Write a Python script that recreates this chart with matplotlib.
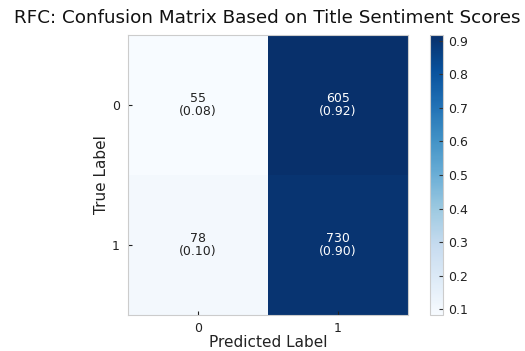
import numpy as np
import matplotlib
matplotlib.use("Agg")
import matplotlib.pyplot as plt

# confusion matrix counts (rows: true, cols: predicted)
class_labels = ["0", "1"]
counts = np.array([[55, 605],
                   [78, 730]])
norm = counts / counts.sum(axis=1, keepdims=True)

fig = plt.figure(figsize=(5.25, 3.51), dpi=100)
ax = fig.add_axes([0.244, 0.103, 0.533, 0.797])
cax = fig.add_axes([0.819, 0.103, 0.025, 0.797])

im = ax.imshow(norm, cmap="Blues", aspect="auto")
cb = fig.colorbar(im, cax=cax)
cb.set_ticks([0.1, 0.2, 0.3, 0.4, 0.5, 0.6, 0.7, 0.8, 0.9])
cb.ax.tick_params(labelsize=9, length=3, color="#333333", direction="in", colors="#222222")
cb.outline.set_edgecolor("#cccccc")

thresh = (norm.max() + norm.min()) / 2
for i in range(2):
    for j in range(2):
        color = "white" if norm[i, j] > thresh else "#222222"
        ax.text(j, i, "{}\n({:.2f})".format(counts[i, j], norm[i, j]),
                ha="center", va="center", fontsize=9, color=color,
                linespacing=1.0)

ax.set_xticks(range(2))
ax.set_yticks(range(2))
ax.set_xticklabels(class_labels)
ax.set_yticklabels(class_labels)
ax.tick_params(axis="x", labelsize=9, length=3, direction="in", colors="#222222", pad=5)
ax.tick_params(axis="y", labelsize=9, length=3, direction="in", colors="#222222", pad=6)
for sp in ax.spines.values():
    sp.set_edgecolor("#cccccc")

ax.set_xlabel("Predicted Label", fontsize=11, color="#222222", labelpad=0)
ax.set_ylabel("True Label", fontsize=11, color="#222222", labelpad=2)
fig.text(0.51, 0.95, "RFC: Confusion Matrix Based on Title Sentiment Scores",
         ha="center", va="center", fontsize=13.2, color="#111111")

fig.savefig("out.png", dpi=100)
